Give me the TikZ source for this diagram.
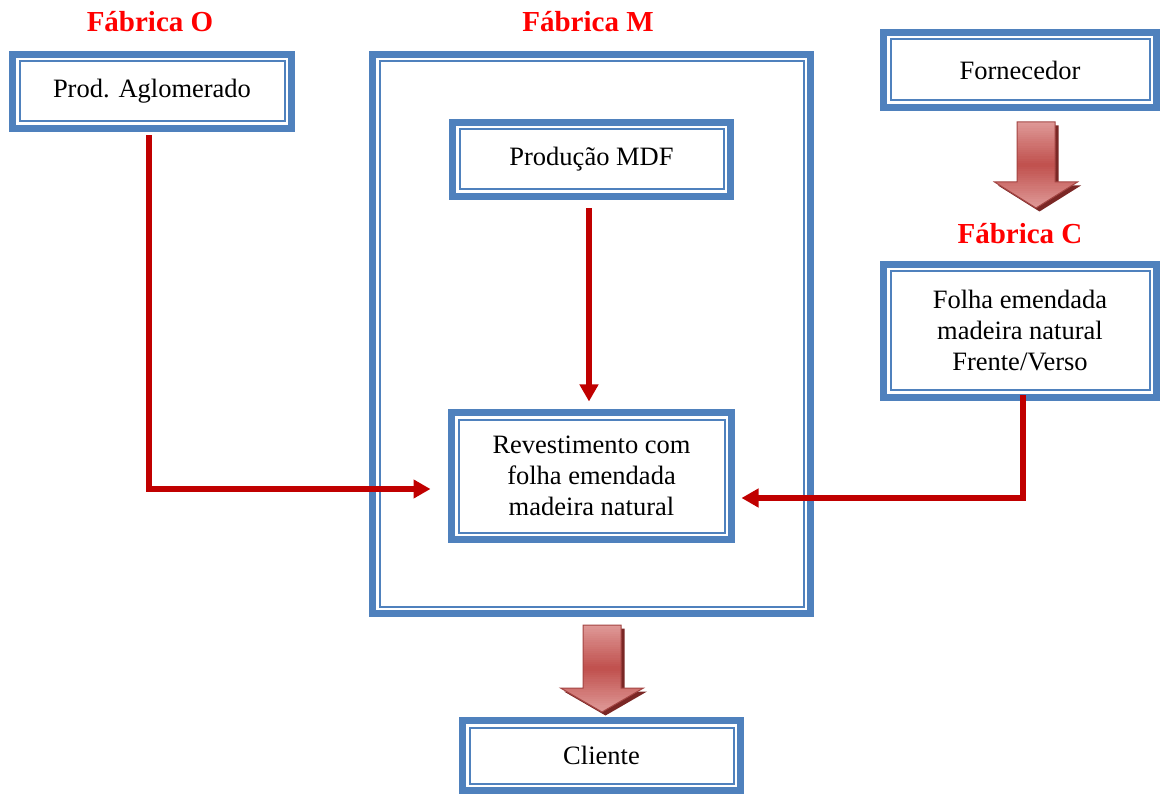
\documentclass[tikz,border=0pt]{standalone}
\usepackage{fontspec}
\setmainfont{Liberation Serif}
\usetikzlibrary{arrows.meta}

\definecolor{boxblue}{HTML}{4F81BD}
\definecolor{linkred}{HTML}{C00000}
\definecolor{titlered}{HTML}{FF0000}
\definecolor{arrowred}{HTML}{C0504D}
\definecolor{arrowlight}{HTML}{DE9896}
\definecolor{arrowdark}{HTML}{7A2725}

\tikzset{
  framebox/.style={draw=boxblue, line width=7pt, fill=white, inner sep=0pt,
    align=center, font=\fontsize{26.5}{31}\selectfont,
    path picture={\draw[boxblue, line width=2pt]
      ([shift={(7pt,-7pt)}]path picture bounding box.north west) rectangle
      ([shift={(-7pt,7pt)}]path picture bounding box.south east);}},
  title/.style={text=titlered, font=\fontsize{29}{34}\bfseries\selectfont},
  link/.style={draw=linkred, line width=6pt,
    -{Triangle[length=17pt,width=18pt]}},
}

% outline of a downward block arrow: centre x, top y, start of head y, tip y
\newcommand\blockpath[4]{%
  (#1-19,#2) -- (#1+19,#2) -- (#1+19,#3) -- (#1+41.5,#3) -- (#1,#4)
  -- (#1-41.5,#3) -- (#1-19,#3) -- cycle}

% downward block arrow with drop shadow and a light-dark-light gradient
\newcommand\blockdown[4]{%
  \fill[arrowdark, shift={(3.5,3.5)}] \blockpath{#1}{#2}{#3}{#4};
  \begin{scope}
    \clip \blockpath{#1}{#2}{#3}{#4};
    \foreach \band in {0,...,39}{
      \pgfmathsetmacro\bandmix{abs(\band/39*2-1)*100}
      \fill[arrowlight!\bandmix!arrowred]
        (#1-45,{#2+(#4-#2)*\band/40}) rectangle (#1+45,{#2+(#4-#2)*(\band+1)/40+0.6});
    }
  \end{scope}
  \draw[arrowred!85!black, line width=1pt] \blockpath{#1}{#2}{#3}{#4};
}

\begin{document}
\begin{tikzpicture}[x=1pt,y=-1pt]
\useasboundingbox (0,0) rectangle (1160,794);

% factory M frame
\node[framebox, minimum width=438pt, minimum height=559pt] (fabm) at (591.5,334) {};

% process boxes
\node[framebox, minimum width=279pt, minimum height=74pt] (agl) at (152,91.5) {Prod. Aglomerado};
\node[framebox, minimum width=278pt, minimum height=74pt] (mdf) at (591.5,159.5) {Produção MDF};
\node[framebox, minimum width=280pt, minimum height=127pt] (rev) at (591.5,476)
  {Revestimento com\\folha emendada\\madeira natural};
\node[framebox, minimum width=273pt, minimum height=75pt] (forn) at (1020,70) {Fornecedor};
\node[framebox, minimum width=273pt, minimum height=133pt] (folha) at (1020,331)
  {Folha emendada\\madeira natural\\Frente/Verso};
\node[framebox, minimum width=278pt, minimum height=70pt] (cli) at (601.5,755.5) {Cliente};

% factory titles
\node[title] (tO) at (150,22) {Fábrica O};
\node[title] (tM) at (588,22) {Fábrica M};
\node[title] (tC) at (1020,234) {Fábrica C};

% flows between factories
\blockdown{1036}{122}{182}{208}
\blockdown{602}{625}{688}{712}

% material links
\draw[link] ([xshift=-3.5pt,yshift=-3.5pt]agl.south) |- ([xshift=-17.5pt,yshift=-13pt]rev.west);
\draw[link] ([xshift=-2.5pt,yshift=-8.5pt]mdf.south) -- ([xshift=-2.5pt,yshift=7.5pt]rev.north);
\draw[link] ([xshift=3pt,yshift=5.5pt]folha.south) |- ([xshift=6.5pt,yshift=-22pt]rev.east);
\end{tikzpicture}
\end{document}
